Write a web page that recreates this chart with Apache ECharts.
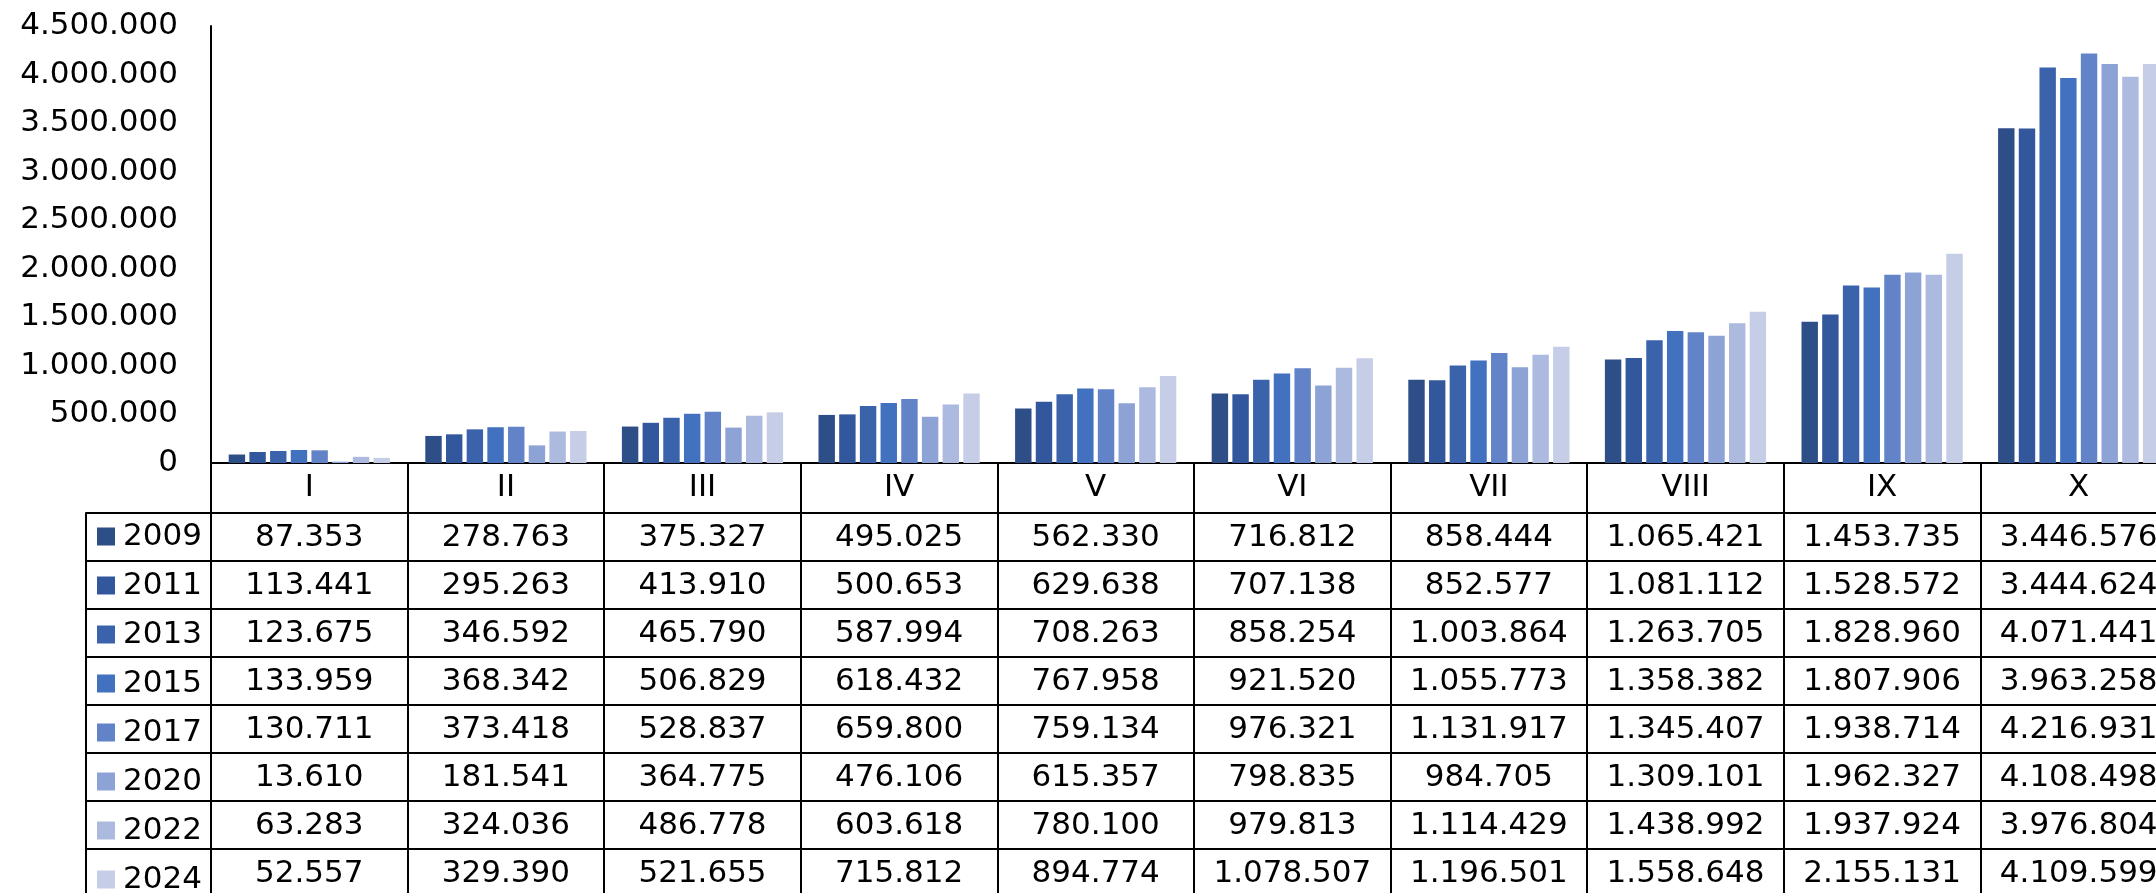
<!DOCTYPE html>
<html>
<head>
<meta charset="utf-8">
<script src="https://cdn.jsdelivr.net/npm/echarts@6/dist/echarts.min.js"></script>
<style>
    html, body { margin: 0; padding: 0; overflow: hidden; background: #fff; }
    #chart { width: 2180px; height: 893px; }
</style>
</head>
<body>
<div id="chart"></div>
<script>
    var categories = ['I', 'II', 'III', 'IV', 'V', 'VI', 'VII', 'VIII', 'IX', 'X'];
    var years = ['2009', '2011', '2013', '2015', '2017', '2020', '2022', '2024'];

    var v2009 = [87353, 278763, 375327, 495025, 562330, 716812, 858444, 1065421, 1453735, 3446576];
    var v2011 = [113441, 295263, 413910, 500653, 629638, 707138, 852577, 1081112, 1528572, 3444624];
    var v2013 = [123675, 346592, 465790, 587994, 708263, 858254, 1003864, 1263705, 1828960, 4071441];
    var v2015 = [133959, 368342, 506829, 618432, 767958, 921520, 1055773, 1358382, 1807906, 3963258];
    var v2017 = [130711, 373418, 528837, 659800, 759134, 976321, 1131917, 1345407, 1938714, 4216931];
    var v2020 = [13610, 181541, 364775, 476106, 615357, 798835, 984705, 1309101, 1962327, 4108498];
    var v2022 = [63283, 324036, 486778, 603618, 780100, 979813, 1114429, 1438992, 1937924, 3976804];
    var v2024 = [52557, 329390, 521655, 715812, 894774, 1078507, 1196501, 1558648, 2155131, 4109599];

    var colors = ['#2e4e87', '#33579c', '#3a63ac', '#4171bf', '#6283c8', '#8ea3d5', '#adbadf', '#c6cde6'];

    var rows = [v2009, v2011, v2013, v2015, v2017, v2020, v2022, v2024];

    // Excel-like German number format
    function fmt(v) {
        return String(v).replace(/\B(?=(\d{3})+(?!\d))/g, '.');
    }

    var font = 'DejaVu Sans';
    var black = '#000';
    var headerH = 50, rowH = 48;

    var xAxes = [{
        type: 'category',
        gridIndex: 0,
        data: categories,
        axisLine: { lineStyle: { color: black, width: 2 } },
        axisTick: { show: true, interval: 0, length: 440, lineStyle: { color: black, width: 2 } },
        axisLabel: { interval: 0, margin: 9, fontSize: 31, color: black, fontFamily: font }
    }];

    // data table: one axis per row in the plot grid, one in the legend grid
    rows.forEach(function (r, k) {
        xAxes.push({
            type: 'category',
            gridIndex: 0,
            position: 'bottom',
            offset: headerH + rowH * k,
            data: r.map(fmt),
            axisLine: { onZero: false, lineStyle: { color: black, width: 2 } },
            axisTick: { show: false },
            axisLabel: { interval: 0, margin: 9, fontSize: 31, color: black, fontFamily: font }
        });
        xAxes.push({
            type: 'category',
            gridIndex: 1,
            position: 'bottom',
            offset: headerH + rowH * k,
            data: [''],
            axisLine: { onZero: false, lineStyle: { color: black, width: 2 } },
            axisTick: k === 0
                ? { show: true, length: 400, lineStyle: { color: black, width: 2 } }
                : { show: false },
            axisLabel: { show: false }
        });
    });

    var chart = echarts.init(document.getElementById('chart'));
    chart.setOption({
        animation: false,
        color: colors,
        textStyle: { fontFamily: font },
        grid: [
            { left: 211, width: 1966, top: 26, bottom: 430 },
            { left: 86, width: 125, top: 26, bottom: 430 }
        ],
        legend: {
            orient: 'vertical',
            left: 97,
            top: 521,
            height: 420,
            padding: 0,
            icon: 'rect',
            itemWidth: 18,
            itemHeight: 18,
            itemGap: 18,
            selectedMode: false,
            data: years,
            textStyle: { fontSize: 31, lineHeight: 30, color: black, fontFamily: font, padding: [0, 0, 0, 3] }
        },
        xAxis: xAxes,
        yAxis: [{
            type: 'value',
            gridIndex: 0,
            min: 0,
            max: 4500000,
            interval: 500000,
            axisLine: { show: true, lineStyle: { color: black, width: 2 } },
            axisTick: { show: false },
            splitLine: { show: false },
            axisLabel: { margin: 33, fontSize: 31, color: black, fontFamily: font, formatter: fmt }
        }, {
            type: 'value',
            gridIndex: 1,
            show: false
        }],
        series: rows.map(function (r, k) {
            return {
                name: years[k],
                type: 'bar',
                xAxisIndex: 0,
                yAxisIndex: 0,
                barGap: '26%',
                barCategoryGap: '18%',
                data: r
            };
        })
    });
</script>
</body>
</html>
